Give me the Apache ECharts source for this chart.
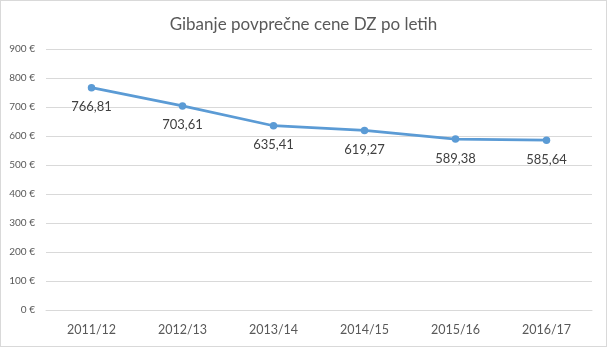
<!DOCTYPE html>
<html><head><meta charset="utf-8">
<script src="https://cdn.jsdelivr.net/npm/echarts@6/dist/echarts.min.js"></script>
<style>html,body{margin:0;padding:0;background:#fff}#c{width:605px;height:345px;border:1px solid #d9d9d9}</style>
</head><body><div id="c"></div>
<script>
const title = 'Gibanje povprečne cene DZ po letih';
const categories = ['2011/12','2012/13','2013/14','2014/15','2015/16','2016/17'];
const values = [766.81, 703.61, 635.41, 619.27, 589.38, 585.64];
const yTicks = {min:0, max:900, interval:100};
const chart = echarts.init(document.getElementById('c'), null, {renderer:'canvas'});
const font = 'Lato, "Open Sans", sans-serif';
chart.setOption({
  animation:false,
  title:{text:title, left:'center', top:10, textStyle:{fontFamily:font, fontSize:17, fontWeight:'normal', color:'#595959'}},
  grid:{left:45, right:14, top:48, bottom:36},
  xAxis:{type:'category', data:categories, boundaryGap:true,
    axisLine:{lineStyle:{color:'#d9d9d9'}}, axisTick:{show:false},
    axisLabel:{fontFamily:font, fontSize:12.5, color:'#595959', margin:13}},
  yAxis:{type:'value', min:yTicks.min, max:yTicks.max, interval:yTicks.interval,
    axisLine:{show:false}, axisTick:{show:false},
    splitLine:{lineStyle:{color:'#d9d9d9'}},
    axisLabel:{fontFamily:font, fontSize:10, color:'#595959', margin:11, formatter:v=>v+' €'}},
  series:[{type:'line', data:values, symbol:'circle', symbolSize:7.5,
    lineStyle:{color:'#5B9BD5', width:2.75}, itemStyle:{color:'#5B9BD5'},
    label:{show:true, position:'bottom', distance:9, fontFamily:font, fontSize:13, color:'#404040',
      formatter:p=>p.value.toFixed(2).replace('.',',')}}]
});
</script></body></html>
